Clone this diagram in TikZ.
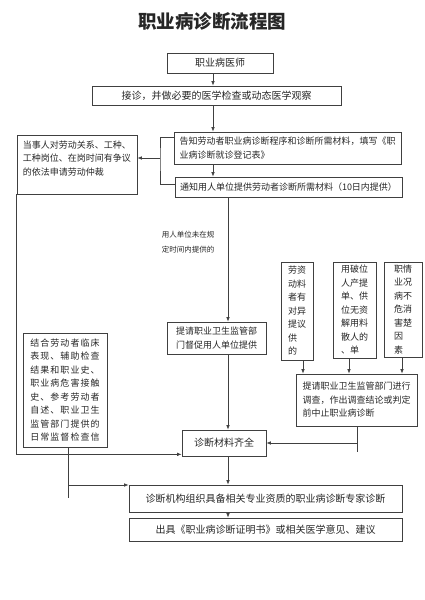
\documentclass[tikz,border=0pt]{standalone}
\usepackage{fontspec}
\setmainfont{Noto Sans CJK SC}
\usetikzlibrary{arrows.meta}

\begin{document}
\begin{tikzpicture}[x=1pt, y=-1pt, line width=.7pt, color=black!75, text=black!85,
  box/.style={draw, inner sep=0pt, font=\fontsize{9}{13.5}\selectfont},
  wide/.style={box, font=\fontsize{10}{13}\selectfont},
  arr/.style={-{Latex[length=4.5pt,width=3.5pt]}}]
\useasboundingbox (0,0) rectangle (425,600);
\node [font=\bfseries\fontsize{18.5}{20}\selectfont] (title) at (212,21) {职业病诊断流程图};

\node [wide, minimum width=106, minimum height=20] (doc) at (220,63) {职业病医师};
\node [wide, minimum width=249, minimum height=19] (exam) at (216.5,95.5) {接诊，并做必要的医学检查或动态医学观察};
\node [box, minimum width=227, minimum height=32, align=left] (inform) at (287.5,148) {告知劳动者职业病诊断程序和诊断所需材料，填写《职\\业病诊断就诊登记表》};
\node [box, minimum width=227, minimum height=20] (notify) at (288.5,187) {通知用人单位提供劳动者诊断所需材料（10日内提供）};
\node [box, minimum width=120, minimum height=59, align=left] (dispute) at (77,164.5) {当事人对劳动关系、工种、\\工种岗位、在岗时间有争议\\的依法申请劳动仲裁\\\mbox{}};

\node [font=\fontsize{7.5}{15}\selectfont, align=left] (late) at (188,242) {用人单位未在规\\定时间内提供的};
\node [box, minimum width=99, minimum height=32, align=center] (urge) at (216.5,338) {提请职业卫生监管部\\门督促用人单位提供};
\node [wide, minimum width=84, minimum height=26] (ready) at (224,443) {诊断材料齐全};

\node [box, minimum width=32, minimum height=98, align=left] (c1) at (297,311) {劳资\\动料\\者有\\对异\\提议\\供\\的};
\node [box, minimum width=43, minimum height=96, align=left] (c2) at (354.5,310) {用破位\\人产提\\单、供\\位无资\\解用料\\散人的\\、单};
\node [box, minimum width=38, minimum height=95, align=left] (c3) at (403,309.5) {职情\\业况\\病不\\危消\\害楚\\因\\素};
\node [box, minimum width=121, minimum height=52, align=left] (probe) at (356.5,400) {提请职业卫生监管部门进行\\调查，作出调查结论或判定\\前中止职业病诊断};

\node [box, minimum width=84, minimum height=114, align=center, font=\fontsize{9}{13.5}\selectfont\addfontfeature{LetterSpace=12}] (basis) at (65,390) {结合劳动者临床\\表现、辅助检查\\结果和职业史、\\职业病危害接触\\史、参考劳动者\\自述、职业卫生\\监管部门提供的\\日常监督检查信};
\node [wide, minimum width=273, minimum height=27] (panel) at (265.5,498.5) {诊断机构组织具备相关专业资质的职业病诊断专家诊断};
\node [wide, minimum width=273, minimum height=23] (cert) at (265.5,529.5) {出具《职业病诊断证明书》或相关医学意见、建议};

\coordinate (ax) at (213,0);
\coordinate (bx) at (228,0);
\coordinate (bk) at (160,158);
\coordinate (pj) at (357,443);
\coordinate (fj) at (68,485);

\draw[arr] (doc.south -| ax) -- (exam.north -| ax);
\draw[arr] (exam.south -| ax) -- (inform.north -| ax);
\draw[arr] (inform.south -| ax) -- (notify.north -| ax);
\draw ([yshift=-6pt]inform.north west) -| (bk) |- ([yshift=3pt]notify.west);
\draw[arr] (bk) -- (dispute.east |- bk);
\draw[arr] (dispute.south west) |- ([yshift=2pt]ready.south west);

\draw[arr] (notify.south -| bx) -- (urge.north -| bx);
\draw[arr] (urge.south -| bx) -- (ready.north -| bx);
\draw[arr] (c1.south -| 303,0) -- (probe.north -| 303,0);
\draw[arr] (c2.south -| 349,0) -- (probe.north -| 349,0);
\draw[arr] (c3.south -| 402,0) -- (probe.north -| 402,0);
\draw (probe.south -| pj) -- ([yshift=-9pt]pj);
\draw[arr] (pj) -- (ready.east |- pj);

\draw (basis.south -| fj) -- ([yshift=-13pt]fj);
\draw[arr] (fj) -- (panel.west |- fj);
\draw[arr] (ready.south -| bx) -- (panel.north -| bx);
\draw[arr] (panel.south -| bx) -- (cert.north -| bx);
\end{tikzpicture}
\end{document}
